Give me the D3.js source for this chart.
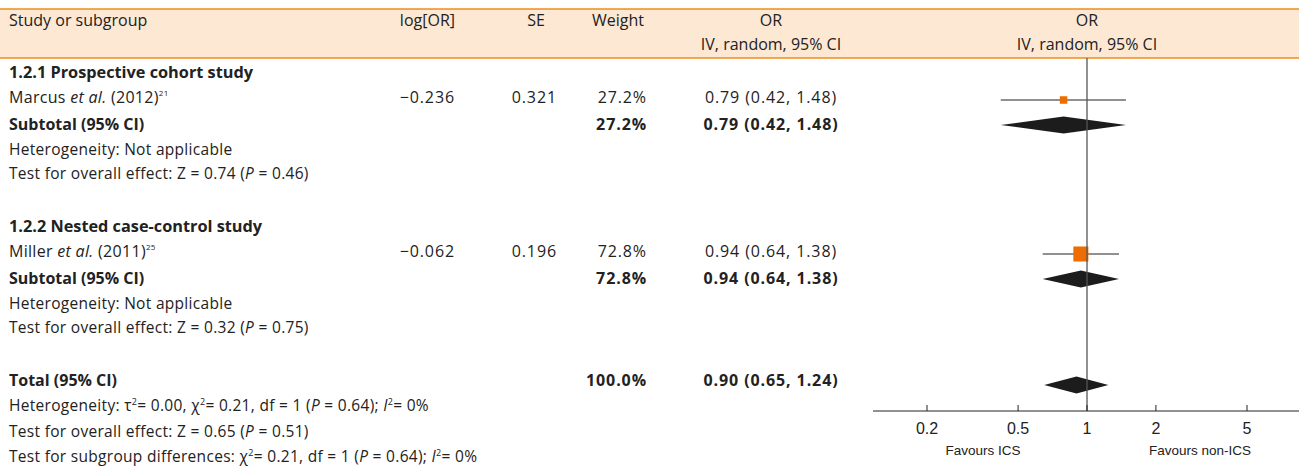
<!DOCTYPE html>
<html><head><meta charset="utf-8">
<script src="https://cdn.jsdelivr.net/npm/d3@7"></script>
<style>body{margin:0;background:#fff}text{font-family:"Open Sans","Noto Sans",sans-serif;fill:#222}.n{letter-spacing:0.9px}</style>
</head><body><svg id="c" width="1299" height="470"></svg>
<script>
const studies=[{name:"Marcus",year:"(2012)",ref:"21",logor:"−0.236",se:"0.321",w:"27.2%",ci:"0.79 (0.42, 1.48)",or:0.79,lo:0.42,hi:1.48,wt:27.2},
{name:"Miller",year:"(2011)",ref:"25",logor:"−0.062",se:"0.196",w:"72.8%",ci:"0.94 (0.64, 1.38)",or:0.94,lo:0.64,hi:1.38,wt:72.8}];
const subtotals=[{w:"27.2%",ci:"0.79 (0.42, 1.48)",or:0.79,lo:0.42,hi:1.48},{w:"72.8%",ci:"0.94 (0.64, 1.38)",or:0.94,lo:0.64,hi:1.38}];
const groups=["1.2.1 Prospective cohort study","1.2.2 Nested case-control study"];
const groupTests=["Test for overall effect: Z = 0.74 (","Test for overall effect: Z = 0.32 ("];
const groupP=["0.46","0.75"];
const total={w:"100.0%",ci:"0.90 (0.65, 1.24)",or:0.90,lo:0.65,hi:1.24};
const ticks=[0.2,0.5,1,2,5];
const svg=d3.select("#c");
const x=d3.scaleLog().domain([0.2,5]).range([927,1247]);
const axisY=411;
svg.append("rect").attr("x",0).attr("y",9).attr("width",1299).attr("height",49).attr("fill","#fde8d3");
[9,58].forEach(y=>svg.append("line").attr("x1",0).attr("x2",1299).attr("y1",y).attr("y2",y).attr("stroke","#f08a1c").attr("stroke-width",1.5));
function t(xx,y,s,o={}){const e=svg.append("text").attr("x",xx).attr("y",y).attr("font-size",o.fs||16).attr("text-anchor",o.a||"start").attr("font-weight",o.b?"bold":null).attr("class",o.n?"n":null).text(s);return e;}
t(9,26,"Study or subgroup");t(455,26,"log[OR]",{a:"end"});t(536,26,"SE",{a:"middle"});t(644,26,"Weight",{a:"end"});
t(771,26,"OR",{a:"middle"});t(771,50,"IV, random, 95% CI",{a:"middle"});
t(1087,26,"OR",{a:"middle"});t(1087,50,"IV, random, 95% CI",{a:"middle"});
function rich(y,parts){const e=svg.append("text").attr("x",9).attr("y",y).attr("font-size",15.5).attr("letter-spacing",0.3);parts.forEach(p=>{const s=e.append("tspan").text(p[0]);if(p[1]==="i")s.attr("font-style","italic");if(p[1]==="sup")s.attr("font-size",9).attr("dy",-6);if(p[1]==="un")s.attr("dy",6);});}
const offs=[0,154];
[0,1].forEach(g=>{
 const o=offs[g], s=studies[g], st=subtotals[g];
 t(9,78+o,groups[g],{b:1,fs:16.3});
 const e=svg.append("text").attr("x",9).attr("y",103+o).attr("font-size",16).attr("letter-spacing",0.3);
 e.append("tspan").text(s.name+" ");e.append("tspan").attr("font-style","italic").text("et al.");e.append("tspan").text(" "+s.year);
 e.append("tspan").attr("font-size",8).attr("dy",-7).text(s.ref);
 t(455,103+o,s.logor,{a:"end",n:1});t(557,103+o,s.se,{a:"end",n:1});t(647,103+o,s.w,{a:"end",n:1});t(771,103+o,s.ci,{a:"middle",n:1});
 t(9,130+o,"Subtotal (95% CI)",{b:1});t(647,130+o,st.w,{a:"end",b:1,n:1});t(771,130+o,st.ci,{a:"middle",b:1,n:1});
 rich(155+o,[["Heterogeneity: Not applicable"]]);
 rich(179+o,[[groupTests[g]],["P","i"],[" = "+groupP[g]+")"]]);
 const cy=100+o;
 svg.append("line").attr("x1",x(s.lo)).attr("x2",x(s.hi)).attr("y1",cy).attr("y2",cy).attr("stroke","#222");
 const sz=3+s.wt*0.165;
 svg.append("rect").attr("x",x(s.or)-sz/2).attr("y",cy-sz/2).attr("width",sz).attr("height",sz).attr("fill","#ef6c00");
 diamond(st,125+o);
});
function diamond(d,cy){svg.append("path").attr("d",`M${x(d.lo)},${cy}L${x(d.or)},${cy-8.5}L${x(d.hi)},${cy}L${x(d.or)},${cy+8.5}Z`).attr("fill","#1c1c1c");}
t(9,386,"Total (95% CI)",{b:1});t(647,386,total.w,{a:"end",b:1,n:1});t(771,386,total.ci,{a:"middle",b:1,n:1});
diamond(total,385);
rich(411,[["Heterogeneity: τ"],["2","sup"],["= 0.00, χ","un"],["2","sup"],["= 0.21, df = 1 (","un"],["P","i"],[" = 0.64); "],["I","i"],["2","sup"],["= 0%","un"]]);
rich(437,[["Test for overall effect: Z = 0.65 ("],["P","i"],[" = 0.51)"]]);
rich(462,[["Test for subgroup differences: χ"],["2","sup"],["= 0.21, df = 1 (","un"],["P","i"],[" = 0.64); "],["I","i"],["2","sup"],["= 0%","un"]]);
svg.append("line").attr("x1",x(1)).attr("x2",x(1)).attr("y1",58).attr("y2",axisY).attr("stroke","#555").attr("stroke-width",1.3);
svg.append("line").attr("x1",873).attr("x2",1299).attr("y1",axisY).attr("y2",axisY).attr("stroke","#222");
ticks.forEach(v=>{svg.append("line").attr("x1",x(v)).attr("x2",x(v)).attr("y1",axisY-6).attr("y2",axisY).attr("stroke","#222");
 svg.append("text").attr("x",x(v)).attr("y",434).attr("text-anchor","middle").attr("font-size",16).style("font-family","Liberation Sans,Arial").text(v);});
svg.append("text").attr("x",983).attr("y",455).attr("text-anchor","middle").attr("font-size",13.5).style("font-family","Liberation Sans,Arial").text("Favours ICS");
svg.append("text").attr("x",1200).attr("y",455).attr("text-anchor","middle").attr("font-size",13.5).style("font-family","Liberation Sans,Arial").text("Favours non-ICS");
</script></body></html>
